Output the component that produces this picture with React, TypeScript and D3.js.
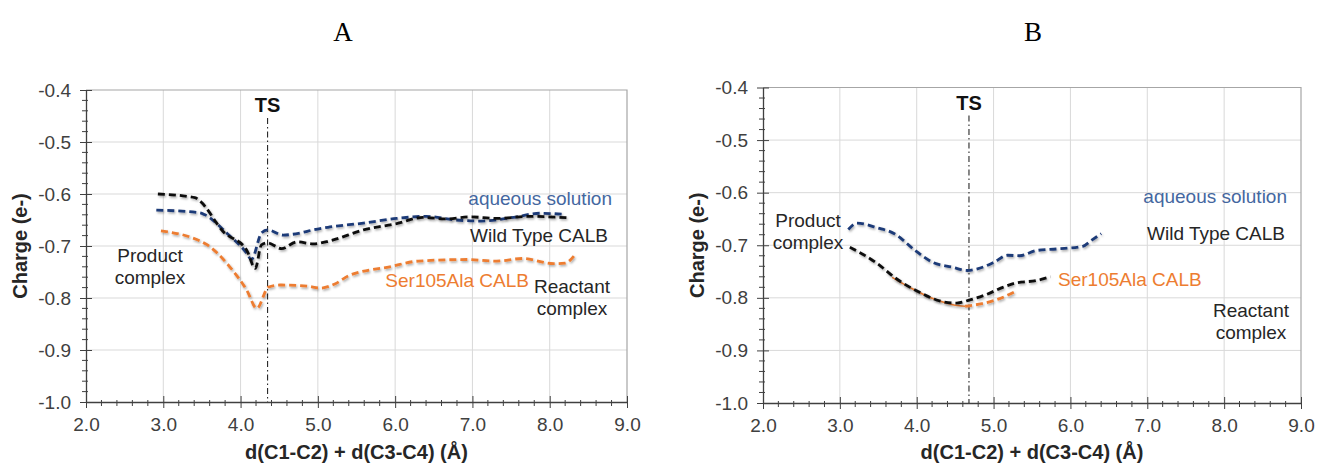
import React, { useEffect, useRef } from "react";
import * as d3 from "d3";

const xTicks = [2, 3, 4, 5, 6, 7, 8, 9];
const yTicks = [-1.0, -0.9, -0.8, -0.7, -0.6, -0.5, -0.4];

// panel A
const aAqueousX = [2.91, 3.47, 3.54, 3.82, 4.08, 4.14, 4.27, 4.35, 4.55, 4.77, 4.94, 5.13, 5.59, 6.02, 6.4, 6.79, 7.1, 7.53, 7.87, 8.17];
const aAqueousY = [-0.631, -0.636, -0.64, -0.675, -0.714, -0.726, -0.675, -0.669, -0.679, -0.675, -0.669, -0.664, -0.656, -0.647, -0.643, -0.65, -0.652, -0.645, -0.637, -0.639];
const aWildX = [2.93, 3.41, 3.47, 3.78, 4.08, 4.19, 4.27, 4.35, 4.53, 4.73, 4.94, 5.16, 5.59, 6.02, 6.36, 6.66, 6.97, 7.31, 7.74, 8.26];
const aWildY = [-0.6, -0.607, -0.613, -0.673, -0.708, -0.743, -0.698, -0.694, -0.705, -0.692, -0.696, -0.69, -0.669, -0.657, -0.645, -0.648, -0.644, -0.647, -0.643, -0.646];
const aSerX = [2.97, 3.35, 3.56, 3.86, 4.08, 4.21, 4.36, 4.51, 4.86, 5.03, 5.22, 5.4, 5.93, 6.3, 6.93, 7.31, 7.65, 8.05, 8.2, 8.32];
const aSerY = [-0.671, -0.683, -0.697, -0.74, -0.785, -0.82, -0.779, -0.775, -0.777, -0.781, -0.773, -0.757, -0.74, -0.729, -0.726, -0.729, -0.724, -0.734, -0.733, -0.718];

// panel B
const bAqueousX = [3.11, 3.22, 3.49, 3.71, 3.98, 4.2, 4.47, 4.66, 4.79, 5.01, 5.18, 5.34, 5.56, 5.83, 6.16, 6.27, 6.4];
const bAqueousY = [-0.67, -0.658, -0.667, -0.678, -0.71, -0.732, -0.742, -0.748, -0.745, -0.732, -0.719, -0.72, -0.71, -0.707, -0.702, -0.691, -0.678];
const bWildX = [3.13, 3.49, 3.71, 4.03, 4.36, 4.52, 4.69, 4.9, 5.12, 5.28, 5.56, 5.74];
const bWildY = [-0.704, -0.735, -0.761, -0.789, -0.808, -0.81, -0.804, -0.794, -0.78, -0.772, -0.767, -0.76];
const bSerX = [3.68, 3.92, 4.2, 4.47, 4.63, 4.85, 5.07, 5.28];
const bSerY = [-0.761, -0.781, -0.801, -0.813, -0.816, -0.811, -0.802, -0.788];

const tsA = 4.35;
const tsB = 4.68;

const BLUE = "#1f3b78";
const BLUE_TXT = "#44679f";
const BLACK = "#111111";
const ORANGE = "#ed7d31";
const TXT = "#262626";
const FONT = "'Liberation Sans', Arial, sans-serif";

const zip = (xs: number[], ys: number[]) => xs.map((x, i) => ({ x, y: ys[i] }));

const panels = [
  {
    title: "A",
    titleX: 343,
    box: { left: 86, right: 627, top: 90, bottom: 402 },
    ylabelX: 20,
    ts: tsA,
    series: [
      { pts: zip(aSerX, aSerY), color: ORANGE, solidUntil: null as number | null },
      { pts: zip(aAqueousX, aAqueousY), color: BLUE, solidUntil: null },
      { pts: zip(aWildX, aWildY), color: BLACK, solidUntil: null },
    ],
    labels: [
      { text: ["aqueous solution"], x: 612, y: 205, anchor: "end", color: BLUE_TXT },
      { text: ["Wild Type CALB"], x: 608, y: 242, anchor: "end", color: TXT },
      { text: ["Ser105Ala CALB"], x: 529, y: 287, anchor: "end", color: ORANGE },
      { text: ["Reactant", "complex"], x: 572, y: 293, anchor: "middle", color: TXT },
      { text: ["Product", "complex"], x: 150, y: 262, anchor: "middle", color: TXT },
    ],
  },
  {
    title: "B",
    titleX: 1033,
    box: { left: 763, right: 1301, top: 87.5, bottom: 403 },
    ylabelX: 697,
    ts: tsB,
    series: [
      { pts: zip(bSerX, bSerY), color: ORANGE, solidUntil: 4.63 as number | null },
      { pts: zip(bAqueousX, bAqueousY), color: BLUE, solidUntil: null },
      { pts: zip(bWildX, bWildY), color: BLACK, solidUntil: null },
    ],
    labels: [
      { text: ["aqueous solution"], x: 1287, y: 203, anchor: "end", color: BLUE_TXT },
      { text: ["Wild Type CALB"], x: 1285, y: 240, anchor: "end", color: TXT },
      { text: ["Ser105Ala CALB"], x: 1058, y: 286, anchor: "start", color: ORANGE },
      { text: ["Reactant", "complex"], x: 1251, y: 317, anchor: "middle", color: TXT },
      { text: ["Product", "complex"], x: 808, y: 227, anchor: "middle", color: TXT },
    ],
  },
];

const App = () => {
  const svgRef = useRef<SVGSVGElement>(null);

  useEffect(() => {
    const svg = d3.select(svgRef.current);
    svg.selectAll("*").remove();

    const defs = svg.append("defs");
    const f = defs
      .append("filter")
      .attr("id", "shadow")
      .attr("x", "-5%")
      .attr("y", "-20%")
      .attr("width", "110%")
      .attr("height", "140%");
    f.append("feDropShadow")
      .attr("dx", 1)
      .attr("dy", 1.5)
      .attr("stdDeviation", 1.3)
      .attr("flood-color", "#000")
      .attr("flood-opacity", 0.35);

    panels.forEach((p) => {
      const { left, right, top, bottom } = p.box;
      const x = d3.scaleLinear().domain([2, 9]).range([left, right]);
      const y = d3.scaleLinear().domain([-1.0, -0.4]).range([bottom, top]);
      const g = svg.append("g");

      g.append("text")
        .attr("x", p.titleX)
        .attr("y", 41)
        .attr("text-anchor", "middle")
        .style("font-family", "'Liberation Serif', 'Times New Roman', serif")
        .style("font-size", "27px")
        .text(p.title);

      // grid
      g.selectAll(".vgrid")
        .data(xTicks.slice(1, -1))
        .enter()
        .append("line")
        .attr("x1", (d) => x(d))
        .attr("x2", (d) => x(d))
        .attr("y1", top)
        .attr("y2", bottom)
        .attr("stroke", "#d9d9d9")
        .attr("stroke-width", 1);
      g.selectAll(".hgrid")
        .data(yTicks.slice(1, -1))
        .enter()
        .append("line")
        .attr("x1", left)
        .attr("x2", right)
        .attr("y1", (d) => y(d))
        .attr("y2", (d) => y(d))
        .attr("stroke", "#d9d9d9")
        .attr("stroke-width", 1);

      // border top / right
      g.append("path")
        .attr("d", `M${left},${top}H${right}V${bottom}`)
        .attr("fill", "none")
        .attr("stroke", "#a6a6a6")
        .attr("stroke-width", 1.2);

      // y axis
      const yAxis = d3
        .axisLeft(y)
        .tickValues(yTicks)
        .tickFormat(d3.format(".1f"))
        .tickSizeInner(6)
        .tickSizeOuter(0)
        .tickPadding(9);
      const ya = g.append("g").attr("transform", `translate(${left},0)`).call(yAxis);
      ya.select(".domain").attr("stroke", "#404040").attr("stroke-width", 1.3);
      ya.selectAll(".tick line").attr("stroke", "#404040").attr("x2", -6).attr("x1", 6);
      ya.selectAll(".tick text")
        .style("font-family", FONT)
        .style("font-size", "19px")
        .attr("fill", "#404040")
        .text((d: any) => d3.format(".1f")(d).replace("−", "-"));
      const yMinor = d3.range(-1.0, -0.399, 0.02).filter((v) => Math.abs(Math.round(v * 10) - v * 10) > 0.01);
      g.selectAll(".ymin")
        .data(yMinor)
        .enter()
        .append("line")
        .attr("x1", left - 4)
        .attr("x2", left + 2)
        .attr("y1", (d) => y(d))
        .attr("y2", (d) => y(d))
        .attr("stroke", "#404040")
        .attr("stroke-width", 1);

      // x axis
      const xAxis = d3
        .axisBottom(x)
        .tickValues(xTicks)
        .tickFormat(d3.format(".1f"))
        .tickSizeInner(6)
        .tickSizeOuter(0)
        .tickPadding(10);
      const xa = g.append("g").attr("transform", `translate(0,${bottom})`).call(xAxis);
      xa.select(".domain").attr("stroke", "#404040").attr("stroke-width", 1.3);
      xa.selectAll(".tick line").attr("stroke", "#404040").attr("y1", -6).attr("y2", 6);
      xa.selectAll(".tick text")
        .style("font-family", FONT)
        .style("font-size", "19px")
        .attr("fill", "#404040");
      const xMinor = d3.range(2, 9.001, 0.2).filter((v) => Math.abs(Math.round(v) - v) > 0.01);
      g.selectAll(".xmin")
        .data(xMinor)
        .enter()
        .append("line")
        .attr("x1", (d) => x(d))
        .attr("x2", (d) => x(d))
        .attr("y1", bottom - 2)
        .attr("y2", bottom + 4)
        .attr("stroke", "#404040")
        .attr("stroke-width", 1);

      // axis titles
      g.append("text")
        .attr("x", (left + right) / 2)
        .attr("y", 459)
        .attr("text-anchor", "middle")
        .style("font-family", FONT)
        .style("font-size", "20px")
        .style("font-weight", "bold")
        .attr("fill", TXT)
        .text("d(C1-C2) + d(C3-C4) (Å)");
      g.append("text")
        .attr("transform", `translate(${p.ylabelX},${y(-0.7)}) rotate(-90)`)
        .attr("text-anchor", "middle")
        .attr("dominant-baseline", "central")
        .style("font-family", FONT)
        .style("font-size", "20px")
        .style("font-weight", "bold")
        .attr("fill", TXT)
        .text("Charge (e-)");

      // TS line
      g.append("line")
        .attr("x1", x(p.ts))
        .attr("x2", x(p.ts))
        .attr("y1", top + 28)
        .attr("y2", bottom)
        .attr("stroke", "#111")
        .attr("stroke-width", 1)
        .attr("stroke-dasharray", "6 3 1.5 3");
      g.append("text")
        .attr("x", x(p.ts))
        .attr("y", top + 22)
        .attr("text-anchor", "middle")
        .style("font-family", FONT)
        .style("font-size", "20px")
        .style("font-weight", "bold")
        .attr("fill", "#111")
        .text("TS");

      // series
      const line = d3
        .line<{ x: number; y: number }>()
        .x((d) => x(d.x))
        .y((d) => y(d.y))
        .curve(d3.curveMonotoneX);
      p.series.forEach((s) => {
        if (s.solidUntil !== null) {
          const su = s.solidUntil;
          g.append("path")
            .attr("d", line(s.pts.filter((d) => d.x <= su)))
            .attr("fill", "none")
            .attr("stroke", s.color)
            .attr("stroke-width", 1.6)
            .attr("filter", "url(#shadow)");
          g.append("path")
            .attr("d", line(s.pts.filter((d) => d.x >= su)))
            .attr("fill", "none")
            .attr("stroke", s.color)
            .attr("stroke-width", 2.8)
            .attr("stroke-dasharray", "7 4")
            .attr("filter", "url(#shadow)");
        } else {
          g.append("path")
            .attr("d", line(s.pts))
            .attr("fill", "none")
            .attr("stroke", s.color)
            .attr("stroke-width", 2.8)
            .attr("stroke-dasharray", "7 4")
            .attr("filter", "url(#shadow)");
        }
      });

      // annotations
      p.labels.forEach((l) => {
        const t = g
          .append("text")
          .attr("x", l.x)
          .attr("y", l.y)
          .attr("text-anchor", l.anchor)
          .style("font-family", FONT)
          .style("font-size", "19px")
          .attr("fill", l.color);
        l.text.forEach((s, i) => {
          t.append("tspan").attr("x", l.x).attr("dy", i === 0 ? 0 : 22).text(s);
        });
      });
    });
  }, []);

  return (
    <div style={{ position: "absolute", left: 0, top: 0 }}>
      <svg ref={svgRef} width={1318} height={468} style={{ display: "block", background: "#fff" }} />
    </div>
  );
};

export default App;
